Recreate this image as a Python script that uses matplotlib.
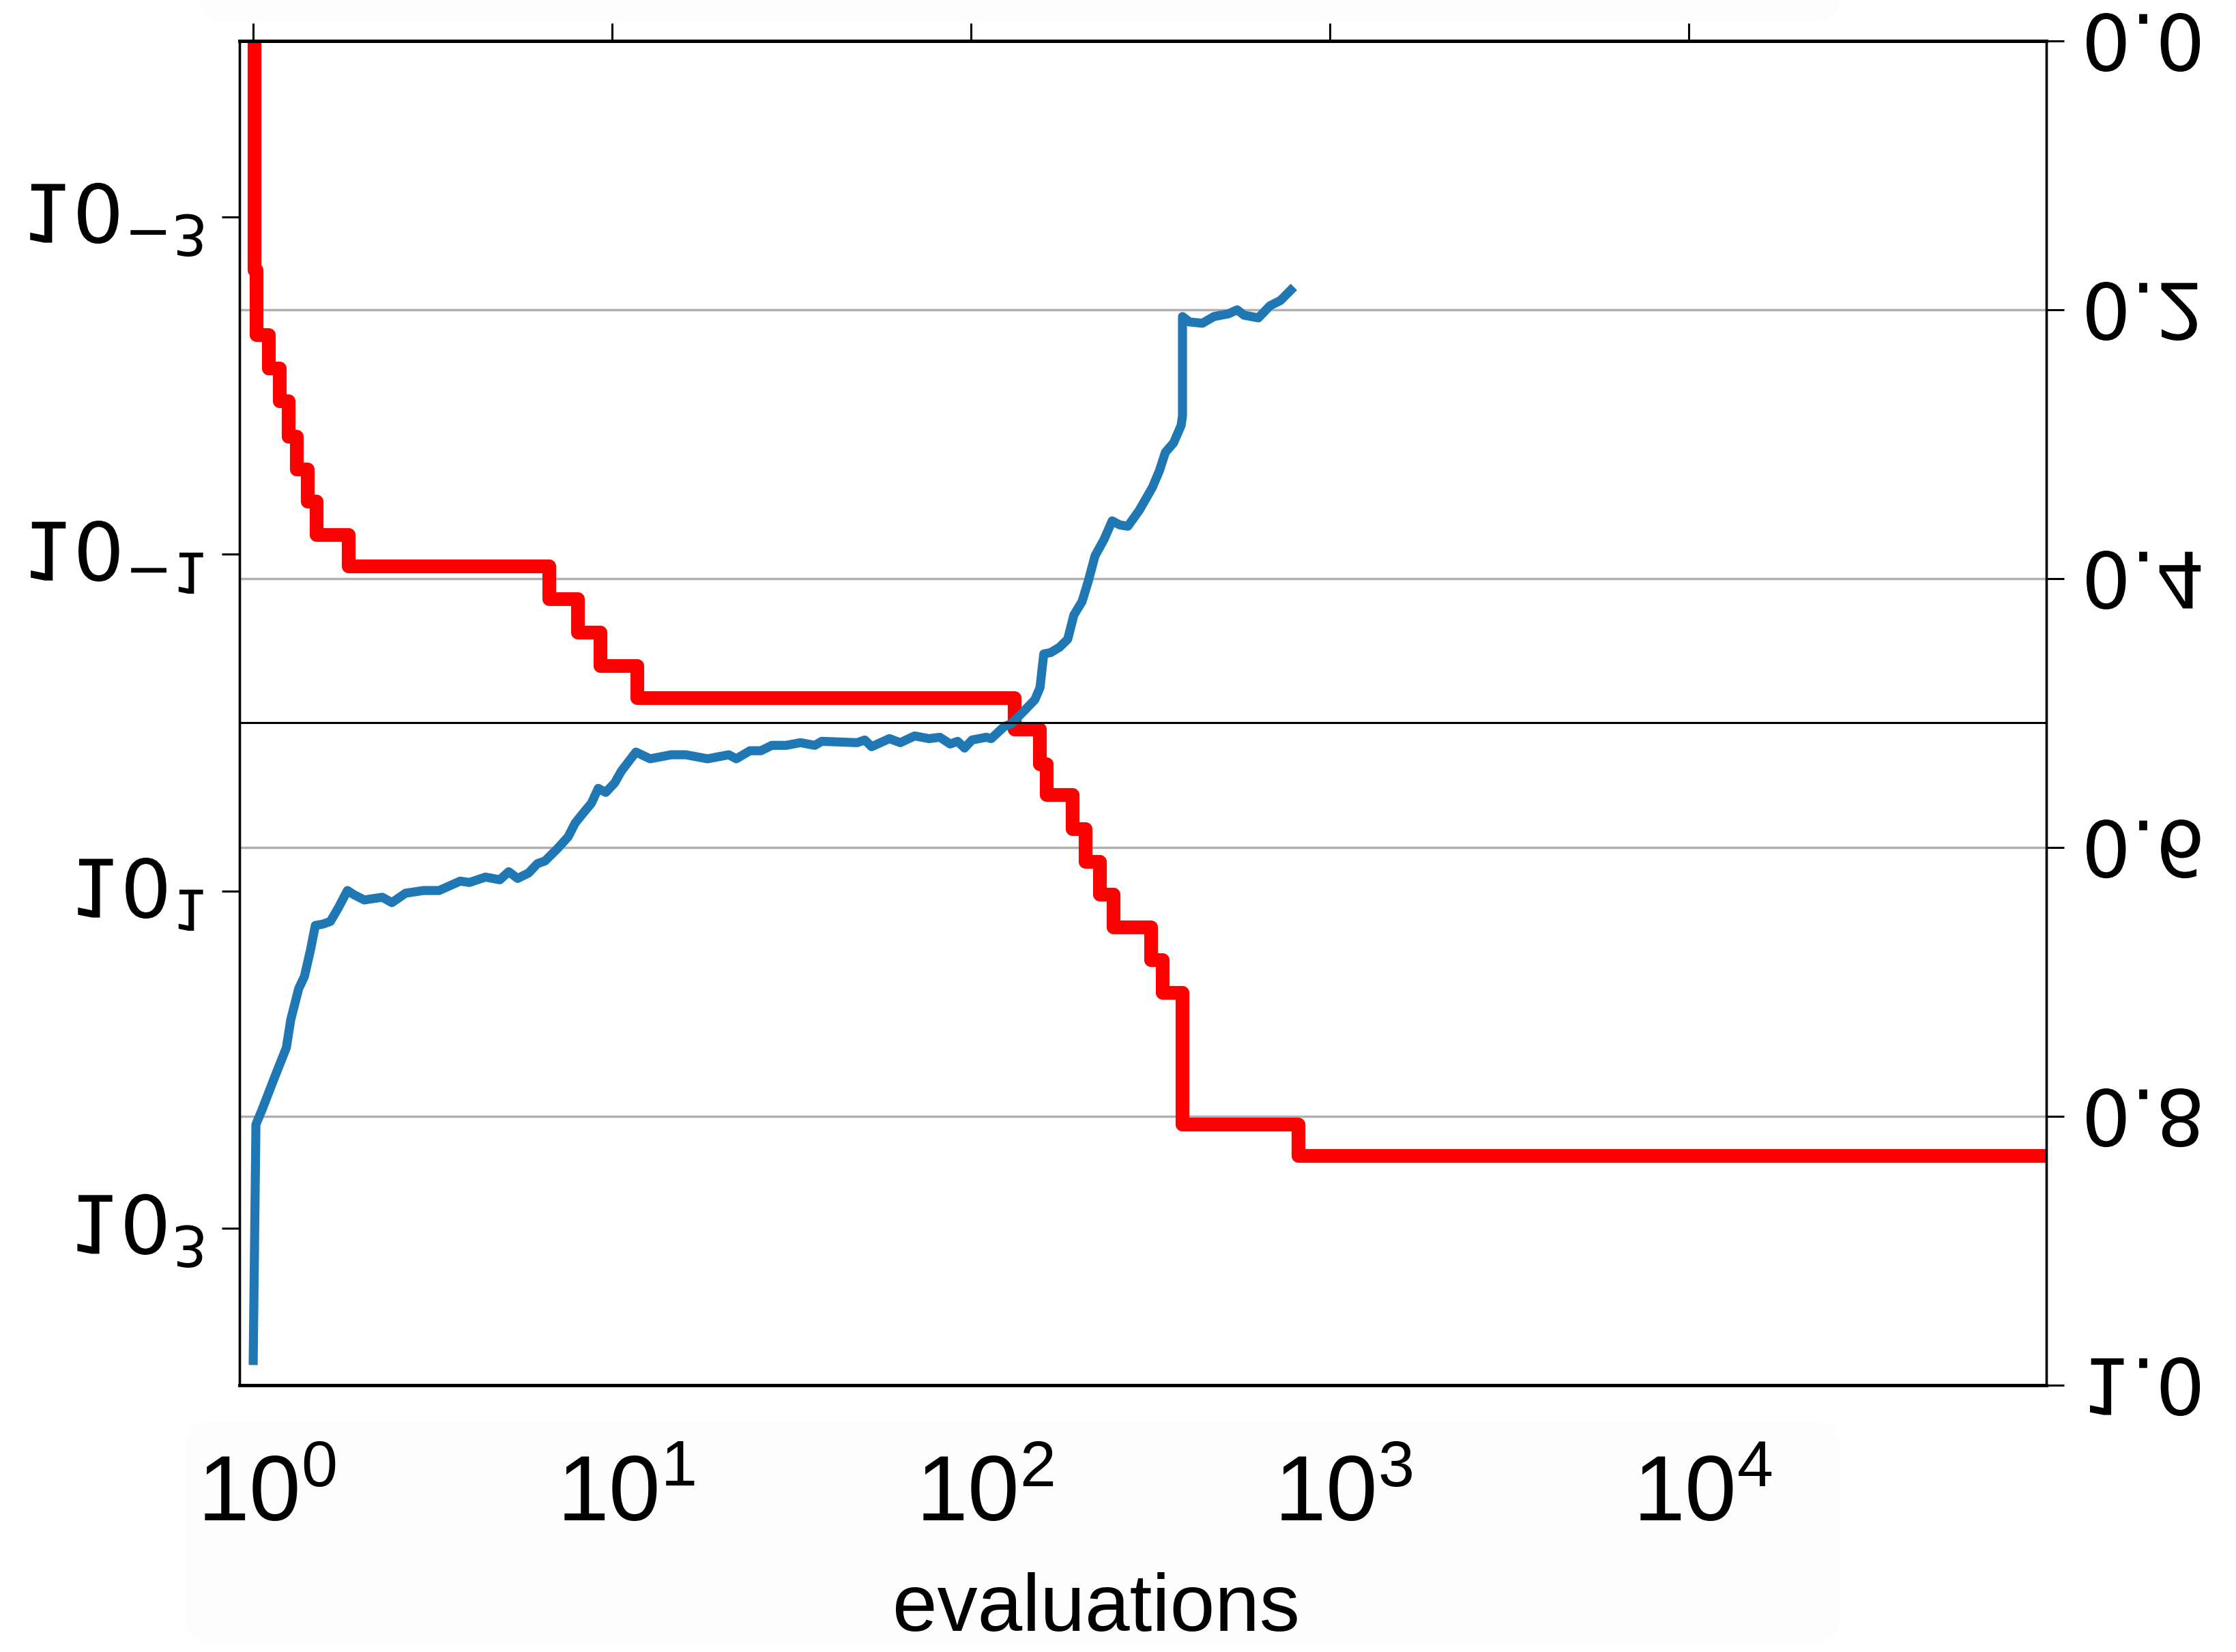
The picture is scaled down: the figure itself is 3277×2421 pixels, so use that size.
import matplotlib
matplotlib.use("Agg")
import matplotlib.pyplot as plt
import matplotlib.patheffects as pe
from matplotlib.transforms import Affine2D, ScaledTranslation, IdentityTransform, blended_transform_factory
from matplotlib.patches import FancyBboxPatch
from matplotlib.ticker import NullLocator


# best value so far (red steps, left log axis)
red_evals = [1.0, 1.008, 1.022, 1.104, 1.186, 1.253, 1.321, 1.420, 1.503, 1.844,
             6.674, 8.022, 9.270, 11.75, 132.0, 155.3, 162.3, 191.6, 208.4, 228.4,
             249.4, 317.3, 341.8, 388.1, 817.8, 1.0e5]
red_best = [1e-5, 2.07e-3, 5.01e-3, 7.93e-3, 1.24e-2, 2.00e-2, 3.15e-2, 4.88e-2, 7.71e-2, 0.118,
            0.185, 0.292, 0.461, 0.715, 1.10, 1.77, 2.69, 4.29, 6.70, 10.5,
            16.4, 25.6, 40.1, 243.0, 372.0, 372.0]

# blue curve (right linear axis)
blue_evals = [1.0, 1.018, 1.059, 1.155, 1.237, 1.273, 1.339, 1.389, 1.445, 1.490,
              1.564, 1.641, 1.726, 1.831, 1.905, 2.039, 2.290, 2.435, 2.658, 2.979,
              3.295, 3.774, 4.005, 4.439, 4.867, 5.152, 5.454, 5.850, 6.194, 6.501,
              7.033, 7.544, 7.882, 8.271, 8.758, 9.150, 9.600, 10.16, 10.62, 11.65,
              12.76, 14.62, 16.03, 18.45, 21.13, 22.18, 24.21, 25.97, 27.86, 30.54,
              33.49, 36.71, 38.36, 48.19, 50.56, 52.83, 59.20, 63.51, 69.62, 76.34,
              81.89, 87.46, 91.77, 95.90, 100.6, 110.3, 113.8, 123.7, 129.2, 138.6,
              150.6, 155.6, 159.4, 166.6, 176.4, 185.9, 193.4, 203.8, 212.0, 221.5,
              234.5, 247.2, 259.4, 273.4, 294.4, 320.1, 334.4, 347.8, 366.6, 384.7,
              388.1, 388.1, 405.5, 440.8, 474.9, 520.8, 551.2, 575.9, 631.5, 680.2,
              728.1, 793.1]
blue_vals = [0.985, 0.806, 0.795, 0.769, 0.749, 0.728, 0.705, 0.696, 0.676, 0.658,
             0.657, 0.655, 0.645, 0.632, 0.635, 0.639, 0.637, 0.641, 0.634, 0.632,
             0.632, 0.625, 0.626, 0.622, 0.624, 0.618, 0.623, 0.619, 0.612, 0.610,
             0.601, 0.592, 0.582, 0.575, 0.567, 0.556, 0.559, 0.552, 0.543, 0.529,
             0.534, 0.531, 0.531, 0.534, 0.531, 0.534, 0.528, 0.528, 0.524, 0.524,
             0.522, 0.524, 0.521, 0.522, 0.520, 0.525, 0.519, 0.522, 0.517, 0.519,
             0.518, 0.523, 0.521, 0.526, 0.520, 0.518, 0.519, 0.510, 0.508, 0.500,
             0.490, 0.481, 0.456, 0.455, 0.451, 0.445, 0.427, 0.417, 0.402, 0.383,
             0.371, 0.357, 0.360, 0.361, 0.349, 0.332, 0.320, 0.306, 0.299, 0.286,
             0.279, 0.205, 0.209, 0.210, 0.205, 0.203, 0.200, 0.204, 0.206, 0.197,
             0.193, 0.183]

x_ticks = [1, 10, 100, 1000, 10000]
x_tick_labels = [r'$\mathregular{10^{0}}$', r'$\mathregular{10^{1}}$', r'$\mathregular{10^{2}}$',
                 r'$\mathregular{10^{3}}$', r'$\mathregular{10^{4}}$']
left_ticks = [1e-3, 1e-1, 1e1, 1e3]
left_tick_labels = [r'$\mathdefault{10^{-3}}$', r'$\mathdefault{10^{-1}}$',
                    r'$\mathdefault{10^{1}}$', r'$\mathdefault{10^{3}}$']
right_ticks = [0.0, 0.2, 0.4, 0.6, 0.8, 1.0]
right_tick_labels = ['0.0', '0.2', '0.4', '0.6', '0.8', '1.0']
grid_levels = [0.2, 0.4, 0.6, 0.8]
ref_level = 1.0
x_label = "evaluations"


class MirrorText(pe.AbstractPathEffect):
    """Draws a text mirrored top to bottom around its own middle"""
    def draw_path(self, renderer, gc, tpath, affine, rgbFace=None):
        box = tpath.get_extents(affine)
        mid = 0.5 * (box.y0 + box.y1)
        flip = affine + Affine2D().translate(0, -mid).scale(1, -1).translate(0, mid)
        renderer.draw_path(gc, tpath, flip, rgbFace)


fig = plt.figure(figsize=(32.77, 24.21), dpi=100)

# faint backing boxes behind the label strips (pixel coords)
for (bx, by, bw, bh) in [(272, 14, 2424, 324), (293, 2388, 2403, 80)]:
    box = FancyBboxPatch((bx, by), bw, bh, boxstyle="round,pad=0,rounding_size=40",
                         transform=IdentityTransform(), fc='#fdfdfd', ec='none', zorder=-1)
    fig.add_artist(box)

ax = fig.add_axes([0.1071, 0.1615, 0.8081, 0.8137])
ax2 = ax.twinx()

ax.set_xscale('log')
ax.set_yscale('log')
ax.set_xlim(0.916, 9.9e4)
ax.set_ylim(8.53e3, 9.0e-5)
ax2.set_ylim(1.0, 0.0)

# grid at the right axis levels, kept under the curves
gtrans = blended_transform_factory(ax.transAxes, ax2.transData)
for g in grid_levels:
    ax.plot([0, 1], [g, g], transform=gtrans, color='#b0b0b0', lw=2.5, zorder=1)

ax.plot(red_evals, red_best, color='#ff0000', lw=14.5, drawstyle='steps-post',
        solid_joinstyle='round', solid_capstyle='butt', zorder=2)
ax2.plot(blue_evals, blue_vals, color='#1f77b4', lw=9.5, solid_capstyle='butt', zorder=3)

# reference line at 1 on the log axis, on top
rtrans = blended_transform_factory(ax2.transAxes, ax.transData)
ax2.plot([0, 1], [ref_level, ref_level], transform=rtrans, color='k', lw=2.2, zorder=4)

# ticks
ax.set_xticks(x_ticks, labels=x_tick_labels)
ax.xaxis.set_minor_locator(NullLocator())
ax.tick_params(axis='x', which='major', bottom=False, top=True, labelbottom=True, labeltop=False,
               direction='out', length=19, width=2.2, pad=54, labelsize=98,
               labelfontfamily='Liberation Sans')
ax.set_yticks(left_ticks, labels=left_tick_labels)
ax.yaxis.set_minor_locator(NullLocator())
ax.tick_params(axis='y', length=19, width=2.2, pad=18, labelsize=85)
ax2.set_yticks(right_ticks, labels=right_tick_labels)
ax2.tick_params(axis='y', length=19, width=2.2, pad=18, labelsize=82)

for a in (ax, ax2):
    a.spines['top'].set_linewidth(3.6)
    a.spines['bottom'].set_linewidth(3.6)
    a.spines['left'].set_linewidth(2.4)
    a.spines['right'].set_linewidth(2.4)

# y labels are shown upside down
for lbl in ax.get_yticklabels() + ax2.get_yticklabels():
    lbl.set_path_effects([MirrorText()])

down = ScaledTranslation(0, -0.12, fig.dpi_scale_trans)
for lbl in ax.get_yticklabels():
    lbl.set_transform(lbl.get_transform() + down)

shift = ScaledTranslation(0.2, 0, fig.dpi_scale_trans)
for lbl in ax.get_xticklabels():
    lbl.set_transform(lbl.get_transform() + shift)

ax.set_xlabel(x_label, fontsize=85, fontfamily='Liberation Sans')
ax.xaxis.set_label_coords(0.474, -0.139)

fig.savefig('out.png', dpi=100)
